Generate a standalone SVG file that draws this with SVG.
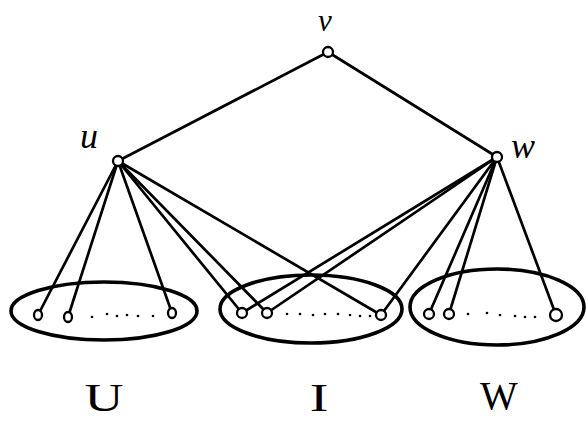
<svg xmlns="http://www.w3.org/2000/svg" width="586" height="423" viewBox="0 0 586 423">
<style>
.e{stroke:#000;stroke-width:2.7;fill:none;stroke-linecap:round}
.grp{fill:none;stroke:#000;stroke-width:3.6}
.n{fill:#fff;stroke:#000;stroke-width:2.3}
.d{fill:#000}
.lbl{font-family:"Liberation Serif",serif;font-style:italic;font-size:36px;fill:#000}
.set{font-family:"Liberation Serif",serif;font-size:40px;fill:#000;text-anchor:middle}
</style>
<rect width="586" height="423" fill="#fff"/>
<g id="connectors">
<line class="e" x1="328" y1="52" x2="118" y2="161"/>
<line class="e" x1="328" y1="52" x2="497" y2="157"/>
<line class="e" x1="118" y1="161" x2="38" y2="315"/>
<line class="e" x1="118" y1="161" x2="68" y2="317"/>
<line class="e" x1="118" y1="161" x2="172" y2="313"/>
<line class="e" x1="118" y1="161" x2="242" y2="313"/>
<line class="e" x1="118" y1="161" x2="267" y2="313"/>
<line class="e" x1="118" y1="161" x2="381" y2="315"/>
<line class="e" x1="497" y1="157" x2="242" y2="313"/>
<line class="e" x1="497" y1="157" x2="267" y2="313"/>
<line class="e" x1="497" y1="157" x2="381" y2="315"/>
<line class="e" x1="497" y1="157" x2="429" y2="314"/>
<line class="e" x1="497" y1="157" x2="449" y2="314"/>
<line class="e" x1="497" y1="157" x2="556" y2="315"/>
</g>
<g id="set-U">
<ellipse class="grp" cx="104" cy="311" rx="93" ry="29"/>
<g id="U1"><ellipse class="n" cx="38" cy="315" rx="4" ry="5"/></g>
<g id="U2"><ellipse class="n" cx="68" cy="317" rx="4" ry="5"/></g>
<g id="U3"><ellipse class="n" cx="172" cy="313" rx="4" ry="5"/></g>
<circle class="d" cx="92" cy="317" r="1.3"/><circle class="d" cx="107" cy="314" r="1.3"/><circle class="d" cx="117" cy="316" r="1.3"/><circle class="d" cx="127" cy="315" r="1.3"/><circle class="d" cx="138" cy="316" r="1.3"/><circle class="d" cx="153" cy="316" r="1.3"/>
<text class="set" x="104" y="411" transform="translate(104 0) scale(1.35 1) translate(-104 0)">U</text>
</g>
<g id="set-I">
<ellipse class="grp" cx="311" cy="309" rx="91" ry="34"/>
<g id="I1"><ellipse class="n" cx="242" cy="313" rx="5" ry="5"/></g>
<g id="I2"><ellipse class="n" cx="267" cy="313" rx="5" ry="5"/></g>
<g id="I3"><ellipse class="n" cx="381" cy="315" rx="5" ry="5"/></g>
<circle class="d" cx="287" cy="314" r="1.3"/><circle class="d" cx="300" cy="314" r="1.3"/><circle class="d" cx="313" cy="315" r="1.3"/><circle class="d" cx="325" cy="314" r="1.3"/><circle class="d" cx="338" cy="314" r="1.3"/><circle class="d" cx="350" cy="315" r="1.3"/><circle class="d" cx="360" cy="316" r="1.3"/><circle class="d" cx="370" cy="316" r="1.3"/>
<text class="set" x="319" y="411" transform="translate(319 0) scale(1.4 1) translate(-319 0)">I</text>
</g>
<g id="set-W">
<ellipse class="grp" cx="497" cy="307" rx="87" ry="38"/>
<g id="W1"><ellipse class="n" cx="429" cy="314" rx="5" ry="5"/></g>
<g id="W2"><ellipse class="n" cx="449" cy="314" rx="5" ry="5"/></g>
<g id="W3"><ellipse class="n" cx="556" cy="315" rx="6" ry="6"/></g>
<circle class="d" cx="468" cy="314" r="1.3"/><circle class="d" cx="487" cy="313" r="1.3"/><circle class="d" cx="500" cy="315" r="1.3"/><circle class="d" cx="515" cy="316" r="1.3"/><circle class="d" cx="525" cy="317" r="1.3"/><circle class="d" cx="535" cy="317" r="1.3"/>
<text class="set" x="499" y="409">W</text>
</g>
<g id="v">
<circle class="n" cx="328" cy="52" r="5"/>
<text class="lbl" x="318" y="31" style="font-size:31px">v</text>
</g>
<g id="u">
<circle class="n" cx="118" cy="161" r="5"/>
<text class="lbl" x="80" y="148">u</text>
</g>
<g id="w">
<circle class="n" cx="497" cy="157" r="5"/>
<text class="lbl" x="511" y="158">w</text>
</g>
</svg>
